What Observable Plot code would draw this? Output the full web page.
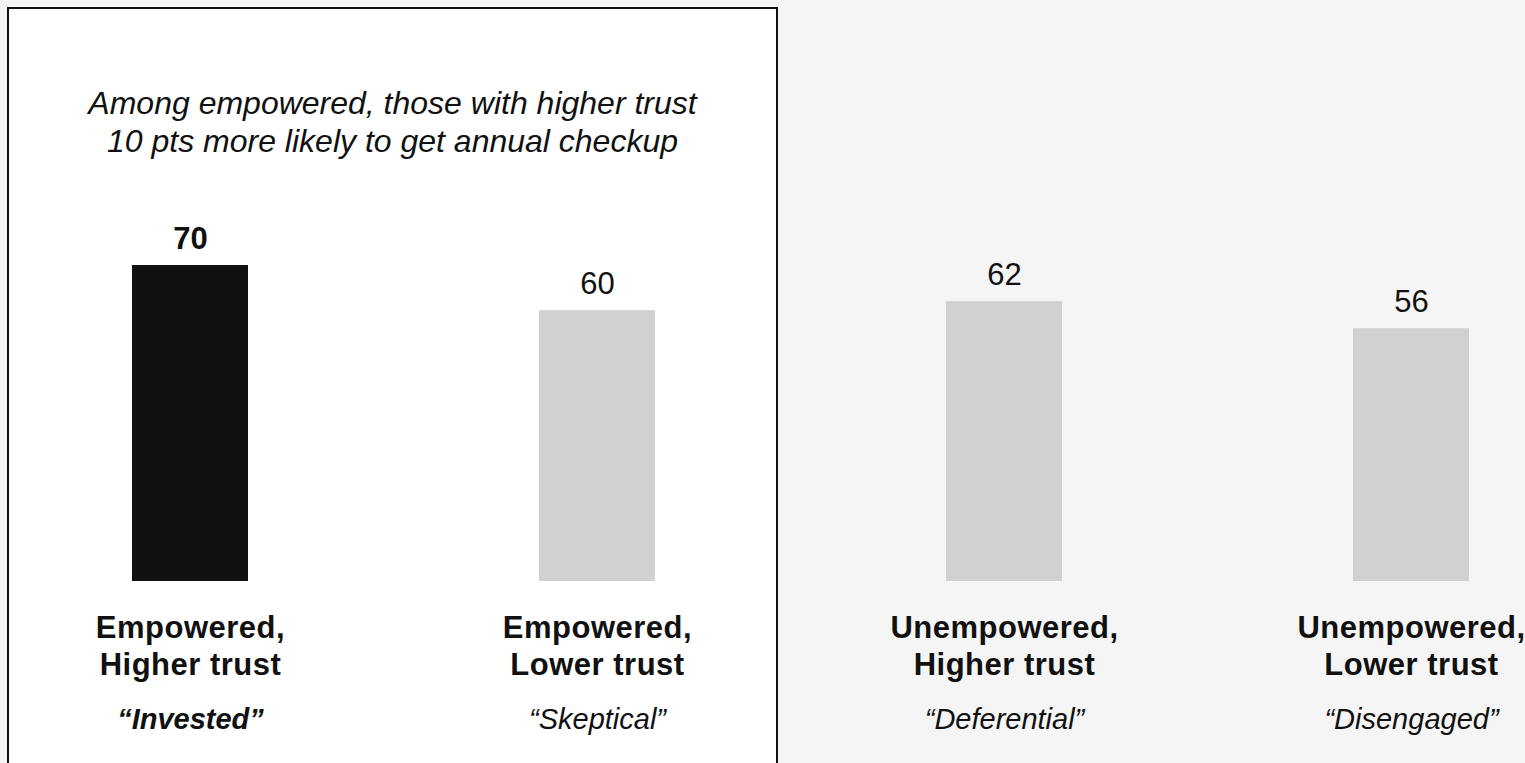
<!DOCTYPE html>
<html>
<head>
<meta charset="utf-8">
<script src="https://cdn.jsdelivr.net/npm/d3@7"></script>
<script src="https://cdn.jsdelivr.net/npm/@observablehq/plot@0.6"></script>
<style>
  html, body { margin: 0; padding: 0; background: #f5f5f5; overflow: hidden; }
  #wrap { position: relative; width: 1525px; height: 763px; font-family: "Liberation Sans", Arial, sans-serif; }
  #panel { position: absolute; left: 7px; top: 7px; width: 767px; height: 800px; background: #fff; border: 2px solid #111; }
  #title { position: absolute; left: 7px; top: 84px; width: 771px; text-align: center; font-style: italic; font-size: 32px; line-height: 38px; color: #111; }
  #chart { position: absolute; left: 0; top: 0; }
  #chart svg { background: transparent !important; overflow: visible; }
  .cat text { letter-spacing: 0.5px; }
</style>
</head>
<body>
<div id="wrap">
  <div id="panel"></div>
  <div id="title"></div>
  <div id="chart"></div>
</div>
<script>
const titleLines = ["Among empowered, those with higher trust", "10 pts more likely to get annual checkup"];
const categories = ["Empowered,\nHigher trust", "Empowered,\nLower trust", "Unempowered,\nHigher trust", "Unempowered,\nLower trust"];
const nicknames = ["\u201CInvested\u201D", "\u201CSkeptical\u201D", "\u201CDeferential\u201D", "\u201CDisengaged\u201D"];
const values = [70, 60, 62, 56];
const highlighted = ["Empowered,\nHigher trust"];

document.getElementById("title").innerHTML = titleLines.join("<br>");

const data = categories.map((c, i) => ({category: c, nickname: nicknames[i], value: values[i], hl: highlighted.includes(c)}));
const font = "Liberation Sans, Arial, sans-serif";

const chart = Plot.plot({
  width: 1525,
  height: 763,
  marginLeft: 131,
  marginRight: 56,
  marginTop: 129.6,
  marginBottom: 182,
  style: {background: "transparent", fontFamily: font, color: "#111"},
  x: {domain: categories, paddingInner: 0.715, paddingOuter: 0, axis: null},
  y: {domain: [0, 100], axis: null},
  marks: [
    Plot.barY(data, {x: "category", y: "value", fill: d => d.hl ? "#111111" : "#d1d1d1"}),
    Plot.text(data.filter(d => d.hl), {x: "category", y: "value", text: d => String(d.value), dy: -17, lineAnchor: "bottom", fontSize: 31, fontWeight: "bold", fill: "#111"}),
    Plot.text(data.filter(d => !d.hl), {x: "category", y: "value", text: d => String(d.value), dy: -17, lineAnchor: "bottom", fontSize: 31, fill: "#111"}),
    Plot.text(data, {x: "category", y: () => 0, text: "category", dy: 93, lineAnchor: "bottom", lineHeight: 37/31, fontSize: 31, fontWeight: "bold", fill: "#111", className: "cat"}),
    Plot.text(data.filter(d => d.hl), {x: "category", y: () => 0, text: "nickname", dy: 147, lineAnchor: "bottom", fontSize: 29, fontStyle: "italic", fontWeight: "bold", fill: "#111"}),
    Plot.text(data.filter(d => !d.hl), {x: "category", y: () => 0, text: "nickname", dy: 147, lineAnchor: "bottom", fontSize: 29, fontStyle: "italic", fill: "#111"})
  ]
});
document.getElementById("chart").appendChild(chart);
</script>
</body>
</html>
